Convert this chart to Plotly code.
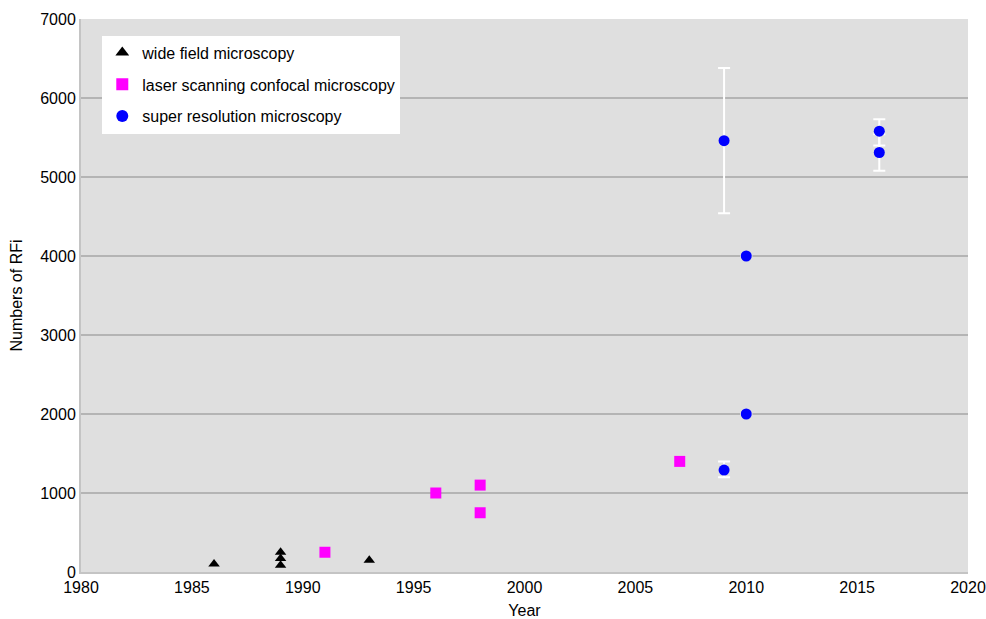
import plotly.graph_objects as go

# Data
wide_years = [1986, 1989, 1989, 1989, 1993]
wide_rfi = [100, 250, 170, 85, 150]

confocal_years = [1991, 1996, 1998, 1998, 2007]
confocal_rfi = [250, 1000, 1100, 750, 1400]

super_years = [2009, 2009, 2010, 2010, 2016, 2016]
super_rfi = [5460, 1290, 4000, 2000, 5580, 5310]
super_err_plus = [920, 110, 0, 0, 150, 230]
super_err_minus = [920, 90, 0, 0, 180, 230]

x_ticks = [1980, 1985, 1990, 1995, 2000, 2005, 2010, 2015, 2020]
y_ticks = [0, 1000, 2000, 3000, 4000, 5000, 6000, 7000]

font_family = "Liberation Sans, Arial, sans-serif"

fig = go.Figure()
fig.add_trace(go.Scatter(
    x=wide_years, y=wide_rfi, mode="markers", name="wide field microscopy",
    legendgroup="a",
    marker=dict(symbol="triangle-up", color="black", size=10),
))
fig.add_trace(go.Scatter(
    x=confocal_years, y=confocal_rfi, mode="markers", name="laser scanning confocal microscopy",
    legendgroup="b",
    marker=dict(symbol="square", color="#ff00ff", size=11),
))
fig.add_trace(go.Scatter(
    x=super_years, y=super_rfi, mode="markers", name="super resolution microscopy",
    legendgroup="c",
    marker=dict(symbol="circle", color="#0000ff", size=11),
    error_y=dict(type="data", array=super_err_plus, arrayminus=super_err_minus,
                 color="white", thickness=2, width=6, symmetric=False),
))

fig.update_layout(
    width=986, height=619,
    margin=dict(l=81, r=18, t=19, b=47, autoexpand=False),
    paper_bgcolor="white",
    plot_bgcolor="#dfdfdf",
    font=dict(family=font_family, size=16, color="black"),
    showlegend=True,
    legend=dict(
        x=0.024, y=0.97, xanchor="left", yanchor="top",
        bgcolor="white", font=dict(size=16, family=font_family),
        tracegroupgap=8, itemsizing="constant",
        borderwidth=0,
    ),
    xaxis=dict(
        range=[1980, 2020], tickvals=x_ticks, ticktext=[str(v) for v in x_ticks],
        showgrid=False, zeroline=False, showline=True, linecolor="#c4c4c4", linewidth=2,
        ticks="", automargin=False,
        title=dict(text="Year", font=dict(size=16), standoff=10),
        tickfont=dict(size=16),
    ),
    yaxis=dict(
        range=[0, 7000], tickvals=y_ticks, ticktext=[str(v) for v in y_ticks],
        showgrid=True, gridcolor="#b4b4b4", gridwidth=2, zeroline=False,
        showline=True, linecolor="#c4c4c4", linewidth=2, mirror=False,
        ticks="", automargin=False,
        title=dict(text="Numbers of RFi", font=dict(size=16), standoff=14),
        tickfont=dict(size=16),
    ),
)

fig.write_html(
    "out.html",
    config={"displayModeBar": False},
    post_script="document.body.style.margin='0';document.body.style.overflow='hidden';",
)
